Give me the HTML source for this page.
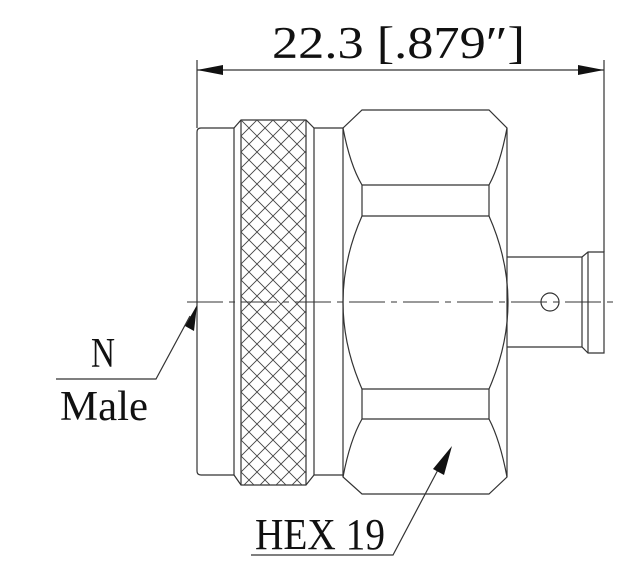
<!DOCTYPE html>
<html><head><meta charset="utf-8"><style>
html,body{margin:0;padding:0;background:#fff;}
svg{display:block;}
text{font-family:"Liberation Serif","Noto Serif CJK SC",serif;fill:#111;}
</style></head><body>
<svg width="630" height="565" viewBox="0 0 630 565" xmlns="http://www.w3.org/2000/svg">
<defs>
<pattern id="knurl" patternUnits="userSpaceOnUse" width="16" height="16" x="241" y="120">
<path d="M0 0L16 16M16 0L0 16" stroke="#444" stroke-width="0.9" fill="none"/>
</pattern>
<clipPath id="kc"><rect x="241" y="120" width="65" height="365"/></clipPath>
</defs>
<g fill="none" stroke="#333" stroke-width="1.2">
<line x1="197" y1="60" x2="197" y2="128"/>
<line x1="604" y1="60" x2="604" y2="252"/>
<line x1="197" y1="70" x2="604" y2="70"/>
<path d="M234 128 L201 128 Q197 128 197 132 L197 471 Q197 475 201 475 L234 475"/>
<line x1="234" y1="128" x2="234" y2="475"/>
<path d="M234 128 L241 120 L306 120 L314 128 L343 128"/>
<path d="M234 475 L241 485 L306 485 L314 475 L343 475"/>
<line x1="314" y1="128" x2="314" y2="475"/>
<line x1="241" y1="120" x2="241" y2="485"/>
<line x1="306" y1="120" x2="306" y2="485"/>
<path d="M343 128 L362 110 L489 110 L507 128 L507 477 L489 494 L362 494 L343 477 Z"/>
<line x1="362" y1="185" x2="489" y2="185"/>
<line x1="362" y1="216" x2="489" y2="216"/>
<line x1="362" y1="389" x2="489" y2="389"/>
<line x1="362" y1="419" x2="489" y2="419"/>
<line x1="362" y1="185" x2="362" y2="216"/>
<line x1="489" y1="185" x2="489" y2="216"/>
<line x1="362" y1="389" x2="362" y2="419"/>
<line x1="489" y1="389" x2="489" y2="419"/>
<path d="M343 128 Q350 165 362 185"/>
<path d="M507 128 Q500 165 489 185"/>
<path d="M362 216 Q324 302 362 389"/>
<path d="M489 216 Q527 302 489 389"/>
<path d="M343 477 Q350 440 362 419"/>
<path d="M507 477 Q500 440 489 419"/>
<path d="M507 257 L582 257 L588 252 L604 252 L604 353 L588 353 L582 347 L507 347"/>
<line x1="582" y1="257" x2="582" y2="347"/>
<line x1="588" y1="252" x2="588" y2="353"/>
<circle cx="550" cy="302" r="9"/>
<path d="M56 379 L156 379 L190 316"/>
<path d="M251 555 L393 555 L440 466"/>
</g>
<rect x="241" y="120" width="65" height="365" fill="url(#knurl)" clip-path="url(#kc)"/>
<line x1="187" y1="302" x2="616" y2="302" stroke="#333" stroke-width="1" stroke-dasharray="36,6,6,6"/>
<g fill="#111">
<polygon points="197,70 223,65 223,75"/>
<polygon points="604,70 578,65 578,75"/>
<polygon points="197,305 194,331 185,326"/>
<polygon points="452,446 444,475 433,469"/>
</g>
<text x="272" y="58" font-size="45" textLength="253" lengthAdjust="spacingAndGlyphs">22.3 [.879″]</text>
<text x="91" y="367" font-size="42" textLength="24" lengthAdjust="spacingAndGlyphs">N</text>
<text x="60" y="420" font-size="42" textLength="88" lengthAdjust="spacingAndGlyphs">Male</text>
<text x="255" y="549" font-size="44" textLength="130" lengthAdjust="spacingAndGlyphs">HEX 19</text>
</svg>
</body></html>
